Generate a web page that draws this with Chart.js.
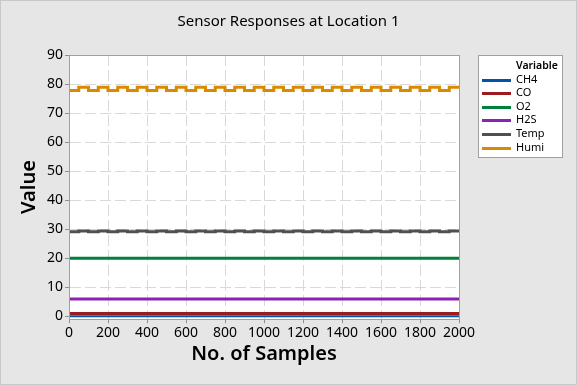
<!DOCTYPE html>
<html>
<head>
<meta charset="utf-8">
<script src="https://cdn.jsdelivr.net/npm/chart.js@4"></script>
<style>
  html, body { margin: 0; padding: 0; background: #e6e6e6; }
  #wrap { width: 575px; height: 383px; border: 1px solid #c8c8c8; background: #e6e6e6; }
</style>
</head>
<body>
<div id="wrap"><canvas id="chart" width="575" height="383"></canvas></div>
<script>
// sample positions where the stepped readings change
var stepSamples = [0, 50, 100, 150, 200, 250, 300, 350, 400, 450, 500, 550, 600, 650, 700, 750, 800, 850, 900, 950,
    1000, 1050, 1100, 1150, 1200, 1250, 1300, 1350, 1400, 1450, 1500, 1550, 1600, 1650, 1700, 1750, 1800, 1850, 1900, 1950, 2000];
var flatSamples = [0, 2000];

var ch4 = [0.05, 0.05];
var co = [1.0, 1.0];
var o2 = [20.0, 20.0];
var h2s = [6.0, 6.0];
var temp = [29.1, 29.35, 29.1, 29.35, 29.1, 29.35, 29.1, 29.35, 29.1, 29.35, 29.1, 29.35, 29.1, 29.35, 29.1, 29.35, 29.1, 29.35, 29.1, 29.35,
    29.1, 29.35, 29.1, 29.35, 29.1, 29.35, 29.1, 29.35, 29.1, 29.35, 29.1, 29.35, 29.1, 29.35, 29.1, 29.35, 29.1, 29.35, 29.1, 29.35, 29.35];
var humi = [77.8, 78.9, 77.8, 78.9, 77.8, 78.9, 77.8, 78.9, 77.8, 78.9, 77.8, 78.9, 77.8, 78.9, 77.8, 78.9, 77.8, 78.9, 77.8, 78.9,
    77.8, 78.9, 77.8, 78.9, 77.8, 78.9, 77.8, 78.9, 77.8, 78.9, 77.8, 78.9, 77.8, 78.9, 77.8, 78.9, 77.8, 78.9, 77.8, 78.9, 78.9];

var seriesNames = ['CH4', 'CO', 'O2', 'H2S', 'Temp', 'Humi'];
var seriesColors = ['#0054a6', '#9b1b1e', '#00803a', '#8a24b0', '#505050', '#d98a00'];
var chartTitle = 'Sensor Responses at Location 1';

function points(xs, ys) {
    return xs.map(function (x, i) { return { x: x, y: ys[i] }; });
}

var seriesData = [
    points(flatSamples, ch4),
    points(flatSamples, co),
    points(flatSamples, o2),
    points(flatSamples, h2s),
    points(stepSamples, temp),
    points(stepSamples, humi)
];

var datasets = seriesNames.map(function (name, i) {
    return {
        label: name,
        data: seriesData[i],
        borderColor: seriesColors[i],
        backgroundColor: seriesColors[i],
        borderWidth: i === 0 ? 2 : 3,
        pointRadius: 0,
        stepped: true,
        fill: false
    };
});

var FONT = "'Noto Sans', 'Open Sans', sans-serif";

// white plot area + frame, title centred on the whole figure, boxed legend
var decor = {
    id: 'decor',
    beforeDraw: function (chart) {
        var a = chart.chartArea, ctx = chart.ctx;
        ctx.save();
        ctx.fillStyle = '#ffffff';
        ctx.fillRect(a.left, a.top, a.right - a.left, a.bottom - a.top);
        ctx.restore();
    },
    afterDraw: function (chart) {
        var a = chart.chartArea, ctx = chart.ctx;
        ctx.save();
        ctx.strokeStyle = '#a0a0a0';
        ctx.lineWidth = 1;
        ctx.strokeRect(Math.round(a.left) + 0.5, Math.round(a.top) + 0.5,
            Math.round(a.right - a.left), Math.round(a.bottom - a.top));

        ctx.fillStyle = '#000';
        ctx.textBaseline = 'middle';
        ctx.textAlign = 'center';
        ctx.font = '15px ' + FONT;
        ctx.fillText(chartTitle, chart.width / 2, 21);

        // legend
        ctx.textAlign = 'left';
        var bx = Math.round(a.right) + 19, by = Math.round(a.top);
        ctx.fillStyle = '#ffffff';
        ctx.fillRect(bx, by, 84, 102);
        ctx.strokeRect(bx + 0.5, by + 0.5, 84, 102);
        ctx.fillStyle = '#000';
        ctx.font = '600 10.5px ' + FONT;
        ctx.fillText('Variable', bx + 38, by + 11);
        ctx.font = '11px ' + FONT;
        chart.data.datasets.forEach(function (ds, i) {
            var y = by + 24.5 + i * 13.6;
            ctx.strokeStyle = ds.borderColor;
            ctx.lineWidth = 3;
            ctx.beginPath();
            ctx.moveTo(bx + 4, Math.round(y) + 0.5);
            ctx.lineTo(bx + 33, Math.round(y) + 0.5);
            ctx.stroke();
            ctx.fillText(ds.label, bx + 38, y);
        });
        ctx.restore();
    }
};

var ctx = document.getElementById('chart').getContext('2d');
new Chart(ctx, {
    type: 'line',
    data: { datasets: datasets },
    plugins: [decor],
    options: {
        responsive: false,
        animation: false,
        layout: { padding: { left: 16, right: 117, top: 54, bottom: 18 } },
        plugins: {
            tooltip: { enabled: false },
            legend: { display: false },
            title: { display: false }
        },
        scales: {
            x: {
                type: 'linear',
                min: 0,
                max: 2000,
                ticks: {
                    stepSize: 200, color: '#000', font: { family: FONT, size: 14 }, padding: 1, maxRotation: 0,
                    callback: function (v) { return String(v); }
                },
                grid: { color: '#d9d9d9', tickColor: '#909090', tickLength: 4, tickBorderDash: [] },
                border: { display: true, color: '#a0a0a0', dash: [11, 4] },
                title: {
                    display: true,
                    text: 'No. of Samples',
                    color: '#000',
                    font: { family: FONT, size: 20, weight: '600' },
                    padding: { top: 0, bottom: 0 }
                }
            },
            y: {
                min: -1,
                max: 90,
                ticks: { stepSize: 10, includeBounds: false, color: '#000', font: { family: FONT, size: 14 }, padding: 2 },
                grid: { color: '#d9d9d9', tickColor: '#909090', tickLength: 4, tickBorderDash: [] },
                border: { display: true, color: '#a0a0a0', dash: [11, 4] },
                title: {
                    display: true,
                    text: 'Value',
                    color: '#000',
                    font: { family: FONT, size: 20, weight: '600' },
                    padding: { top: 0, bottom: 4 }
                }
            }
        }
    }
});
</script>
</body>
</html>
